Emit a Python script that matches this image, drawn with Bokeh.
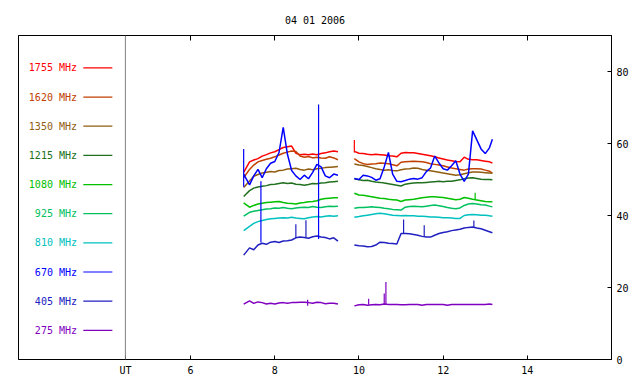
from bokeh.plotting import figure
from bokeh.models import Range1d, LinearAxis, FixedTicker, Span, ColumnDataSource
from bokeh.core.properties import value
from bokeh.embed import file_html
from bokeh.resources import INLINE

title_text = "04 01 2006"
freqs = [1755, 1620, 1350, 1215, 1080, 925, 810, 670, 405, 275]
colors = ["#ff0000", "#c04000", "#905c10", "#207020", "#00c000",
          "#00c060", "#00c0c0", "#0000ff", "#2020c0", "#8000c0"]
x_ticks = [4.45, 6, 8, 10, 12, 14]
x_tick_labels = ["UT", "6", "8", "10", "12", "14"]
y_ticks = [0, 20, 40, 60, 80]

# UT hours of the two observing runs
t1 = [7.26, 7.4, 7.5, 7.6, 7.7, 7.8, 7.9, 8.0, 8.1, 8.2, 8.3, 8.4, 8.5, 8.6,
      8.7, 8.8, 8.9, 9.0, 9.1, 9.2, 9.3, 9.4, 9.5]
t2 = [9.89, 10.0, 10.1, 10.2, 10.3, 10.4, 10.5, 10.6, 10.7, 10.8, 10.9, 11.0,
      11.1, 11.2, 11.3, 11.4, 11.5, 11.6, 11.7, 11.8, 11.9, 12.0, 12.1, 12.2,
      12.3, 12.4, 12.5, 12.6, 12.7, 12.8, 12.9, 13.0, 13.1, 13.17]

s1755_a = [52.0, 54.9, 55.4, 55.8, 56.5, 56.9, 57.4, 57.7, 58.3, 58.9, 59.1, 59.3, 57.3, 56.9, 57.0, 56.9, 57.1, 56.9, 57.2, 57.4, 57.7, 57.9, 57.7]
s1755_b = [57.8, 57.3, 57.2, 57.0, 56.9, 57.0, 56.9, 56.8, 56.6, 56.5, 56.3, 57.3, 57.5, 57.4, 57.4, 57.2, 57.0, 56.8, 56.6, 56.3, 56.0, 55.7, 55.4, 55.2, 55.0, 54.9, 56.2, 55.6, 55.5, 55.5, 55.3, 55.1, 54.9, 54.6]
s1620_a = [50.5, 52.8, 54.0, 54.9, 55.3, 55.6, 55.9, 56.3, 56.8, 57.3, 57.6, 57.9, 57.8, 56.5, 56.2, 56.4, 56.0, 56.2, 56.0, 55.9, 56.3, 56.0, 55.5]
s1620_b = [55.8, 54.9, 54.4, 54.2, 54.3, 54.4, 54.6, 54.5, 54.4, 54.1, 53.8, 54.8, 54.9, 55.0, 55.1, 55.0, 54.9, 54.7, 54.4, 54.2, 54.0, 53.8, 53.5, 53.2, 53.0, 52.8, 52.6, 52.9, 53.0, 53.0, 52.9, 52.6, 52.3, 51.8]
s1350_a = [47.8, 49.6, 50.9, 51.4, 51.8, 52.0, 52.2, 52.1, 52.5, 52.6, 52.9, 53.0, 53.1, 52.8, 52.6, 52.9, 52.7, 53.0, 53.1, 53.3, 53.4, 53.5, 53.6]
s1350_b = [54.3, 54.0, 53.9, 53.6, 53.3, 53.0, 52.8, 52.6, 52.7, 52.5, 52.4, 52.7, 52.9, 53.0, 53.2, 53.1, 52.8, 52.6, 52.4, 52.2, 52.0, 51.8, 51.6, 51.4, 51.2, 51.3, 51.6, 51.9, 52.1, 52.1, 52.0, 51.9, 51.8, 51.7]
s1215_a = [45.3, 46.9, 47.6, 47.9, 48.1, 48.3, 48.6, 48.7, 48.9, 49.1, 48.9, 49.0, 48.7, 48.6, 48.4, 48.6, 48.9, 48.8, 49.0, 49.1, 49.3, 49.4, 49.5]
s1215_b = [50.2, 49.9, 49.7, 49.8, 49.5, 49.3, 49.2, 49.0, 48.8, 48.6, 48.4, 48.2, 48.7, 48.9, 49.0, 49.1, 49.1, 49.2, 49.3, 49.4, 49.5, 49.4, 49.5, 49.5, 49.7, 49.9, 50.2, 50.4, 50.5, 50.3, 50.1, 50.0, 50.0, 49.9]
s1080_a = [43.5, 42.3, 42.8, 43.2, 43.4, 43.6, 43.7, 43.8, 43.9, 43.6, 43.4, 43.3, 43.2, 43.5, 43.6, 43.8, 43.9, 44.1, 44.5, 44.7, 44.8, 44.9, 44.9]
s1080_b = [46.2, 45.7, 45.6, 45.4, 45.2, 45.0, 44.8, 44.7, 44.5, 44.4, 44.3, 43.9, 44.3, 44.4, 44.5, 44.7, 44.9, 45.1, 45.2, 45.2, 45.1, 45.0, 44.8, 44.6, 44.4, 44.5, 45.0, 44.8, 44.5, 44.3, 44.1, 43.9, 43.8, 43.8]
s925_a = [39.8, 40.9, 41.2, 41.4, 41.6, 41.8, 41.9, 42.1, 42.0, 42.2, 42.0, 41.9, 42.1, 42.2, 42.3, 42.2, 42.5, 42.3, 42.2, 42.4, 42.6, 42.5, 42.6]
s925_b = [42.0, 42.2, 42.2, 42.3, 42.4, 42.3, 42.2, 42.0, 41.9, 41.7, 41.6, 41.5, 42.3, 42.5, 42.6, 42.5, 42.4, 42.6, 42.8, 42.9, 42.7, 42.5, 42.2, 42.0, 41.9, 42.1, 42.8, 43.2, 43.3, 43.2, 43.0, 42.9, 42.6, 42.4]
s810_a = [35.8, 37.0, 37.8, 38.3, 38.6, 38.9, 39.1, 39.2, 39.3, 39.4, 39.3, 39.5, 39.3, 39.2, 39.1, 39.4, 39.6, 39.7, 39.6, 39.8, 39.9, 39.8, 39.9]
s810_b = [39.5, 39.7, 39.9, 40.1, 40.3, 40.5, 40.6, 40.5, 40.3, 40.1, 40.0, 39.9, 40.0, 39.9, 39.9, 39.8, 39.8, 39.7, 39.6, 39.6, 39.5, 39.4, 39.4, 39.3, 39.2, 39.2, 40.0, 40.2, 40.3, 40.2, 40.1, 40.1, 39.9, 39.8]
s670_a = [51.5, 48.5, 51.0, 52.8, 50.5, 53.0, 54.5, 55.0, 57.5, 64.5, 57.0, 52.5, 51.0, 50.0, 51.2, 50.2, 52.0, 54.2, 53.5, 51.0, 50.5, 51.5, 51.2]
s670_b = [50.3, 50.0, 51.2, 51.0, 50.6, 49.8, 50.2, 53.5, 57.5, 51.5, 49.5, 49.4, 49.7, 50.1, 50.3, 50.1, 50.5, 52.2, 53.2, 56.5, 54.6, 53.0, 52.6, 53.8, 55.2, 51.5, 49.5, 51.5, 63.5, 61.0, 58.5, 57.2, 58.8, 61.2]
s405_a = [29.0, 31.0, 30.5, 31.8, 32.3, 32.0, 32.6, 32.8, 32.5, 32.9, 33.0, 33.2, 33.8, 34.0, 33.9, 33.7, 34.1, 34.3, 34.0, 33.9, 33.5, 33.8, 32.9]
s405_b = [31.8, 31.6, 31.5, 31.3, 31.4, 31.8, 32.6, 32.5, 32.3, 32.2, 32.1, 35.0, 35.0, 34.9, 34.7, 34.5, 34.2, 34.0, 34.0, 34.5, 35.0, 35.3, 35.5, 35.8, 36.0, 36.2, 36.5, 36.7, 36.8, 36.5, 36.3, 35.9, 35.5, 35.2]
s275_a = [15.4, 16.3, 15.6, 16.0, 15.8, 15.4, 15.6, 15.4, 15.7, 15.8, 15.6, 15.8, 15.8, 15.9, 15.9, 15.8, 15.6, 15.9, 15.8, 15.5, 15.6, 15.6, 15.4]
s275_b = [14.9, 15.2, 15.3, 15.1, 15.2, 15.3, 15.2, 15.4, 15.3, 15.3, 15.3, 15.2, 15.2, 15.3, 15.3, 15.3, 15.1, 15.3, 15.3, 15.3, 15.3, 15.3, 15.1, 15.3, 15.3, 15.3, 15.3, 15.3, 15.3, 15.3, 15.3, 15.3, 15.4, 15.3]

# short bursts (single-sample spikes)
spike_freq = [670, 670, 670, 1755, 405, 405, 405, 405, 405, 275, 275, 275, 275, 1080]
spike_t = [7.26, 7.67, 9.04, 9.89, 8.50, 8.74, 11.06, 11.55, 12.73, 8.78, 10.23, 10.60, 10.64, 12.76]
spike_lo = [48.0, 32.5, 33.5, 57.5, 33.8, 33.9, 35.0, 34.3, 36.8, 14.9, 15.2, 15.3, 15.3, 44.3]
spike_hi = [58.5, 49.5, 70.8, 61.0, 37.6, 38.7, 38.9, 37.3, 38.6, 16.6, 16.9, 18.3, 21.5, 46.3]

series = {
    1755: (s1755_a, s1755_b), 1620: (s1620_a, s1620_b), 1350: (s1350_a, s1350_b),
    1215: (s1215_a, s1215_b), 1080: (s1080_a, s1080_b), 925: (s925_a, s925_b),
    810: (s810_a, s810_b), 670: (s670_a, s670_b), 405: (s405_a, s405_b),
    275: (s275_a, s275_b),
}

FONT = "DejaVu Sans Mono"
p = figure(width=636, height=382, output_backend="svg", toolbar_location=None,
           x_range=Range1d(1.91, 16.0), y_range=Range1d(0, 90),
           x_axis_location="below", y_axis_location="right",
           min_border_left=18, min_border_right=25, min_border_top=35,
           min_border_bottom=23)
p.background_fill_color = "white"
p.border_fill_color = "white"
p.outline_line_color = "black"
p.outline_line_width = 1
p.xgrid.visible = False
p.ygrid.visible = False

p.title.text = title_text
p.title.align = "center"
p.title.text_font = FONT
p.title.text_font_size = "10px"
p.title.text_font_style = "normal"
p.title.text_color = "black"
p.title.standoff = 20

xa = p.xaxis[0]
xa.ticker = FixedTicker(ticks=x_ticks)
xa.major_label_overrides = {t: l for t, l in zip(x_ticks, x_tick_labels)}
xa.major_tick_in = 4
xa.major_tick_out = 0
xa.minor_tick_line_color = None
xa.major_label_standoff = 5
xa.major_label_text_font = FONT
xa.major_label_text_font_size = "10px"
xa.major_label_text_color = "black"
xa.axis_line_color = "black"

ya = p.yaxis[0]
ya.ticker = FixedTicker(ticks=y_ticks)
ya.major_tick_in = 4
ya.major_tick_out = 0
ya.minor_tick_line_color = None
ya.major_label_standoff = 5
ya.major_label_text_font = FONT
ya.major_label_text_font_size = "10px"
ya.major_label_text_color = "black"
ya.axis_line_color = "black"

top = LinearAxis(ticker=FixedTicker(ticks=x_ticks[1:]))
top.major_tick_in = 5
top.major_tick_out = 0
top.minor_tick_line_color = None
top.major_label_text_font_size = "1px"
top.major_label_text_alpha = 0
top.major_label_standoff = 0
top.axis_line_color = "black"
p.add_layout(top, "above")

p.add_layout(Span(location=4.45, dimension="height", line_color="#808080", line_width=1))

for f, c in zip(freqs, colors):
    a, b = series[f]
    p.line(t1, a, line_color=c, line_width=1.5)
    p.line(t2, b, line_color=c, line_width=1.5)

cmap = dict(zip(freqs, colors))
p.segment(x0=spike_t, x1=spike_t, y0=spike_lo, y1=spike_hi,
          line_color=[cmap[f] for f in spike_freq], line_width=1.2)

# legend (label left, line sample right)
n = len(freqs)
leg_y = [8.1 * (n - i) for i in range(n)]
leg = ColumnDataSource(dict(
    y=leg_y, text=[f"{f} MHz" for f in freqs], color=colors,
    xt=[3.3] * n, x0=[3.45] * n, x1=[4.14] * n))
p.text(x="xt", y="y", text="text", text_color="color", source=leg,
       text_align="right", text_baseline="middle",
       text_font=value(FONT), text_font_size="10px")
p.segment(x0="x0", x1="x1", y0="y", y1="y", line_color="color", line_width=1.2, source=leg)

open("out.html", "w").write(file_html(p, INLINE))
